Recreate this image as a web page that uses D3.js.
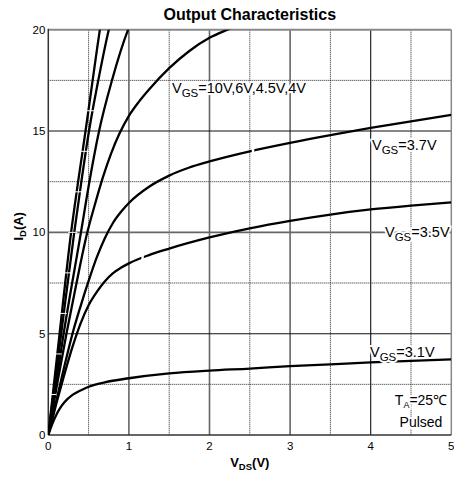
<!DOCTYPE html>
<html>
<head>
<meta charset="utf-8">
<script src="https://cdn.jsdelivr.net/npm/d3@7"></script>
<style>
  html, body { margin: 0; padding: 0; background: #fff; }
  svg { display: block; font-family: "Liberation Sans", Arial, sans-serif; }
</style>
</head>
<body>
<svg id="chart" width="454" height="480"></svg>
<script>
// Output characteristics: drain current I_D versus drain-source voltage V_DS
// for several gate-source voltages (T_A = 25 °C, pulsed).

const xTicks = [0, 1, 2, 3, 4, 5];
const yTicks = [0, 5, 10, 15, 20];
const xMinor = [0.5, 1.5, 2.5, 3.5, 4.5];
const yMinor = [2.5, 7.5, 12.5, 17.5];

// Each curve: [V_DS (V), I_D (A)]
const vgs10V  = [[0,0],[0.14,5],[0.283,10],[0.37,12.5],[0.462,15],[0.55,17.5],[0.64,20],[0.68,21]];
const vgs6V   = [[0,0],[0.16,5],[0.322,10],[0.41,12.5],[0.505,15],[0.62,17.5],[0.75,20],[0.81,21]];
const vgs4p5V = [[0,0],[0.19,5],[0.405,10],[0.51,12.5],[0.63,15],[0.79,17.5],[0.99,20],[1.1,21]];
const vgs4V   = [[0,0],[0.1,2.3],[0.225,5],[0.35,7.5],[0.484,10],[0.58,11.4],[0.68,12.75],[0.78,13.9],
                 [0.88,14.85],[1.0,15.75],[1.125,16.45],[1.25,17.05],[1.5,18.1],[1.75,18.95],
                 [2.0,19.6],[2.25,20.05],[2.5,20.5]];
const vgs3p7V = [[0,0],[0.1,1.7],[0.2,3.4],[0.3,5.0],[0.4,6.35],[0.5,7.6],[0.6,8.75],[0.7,9.7],[0.8,10.45],
                 [0.9,11.0],[1.0,11.45],[1.25,12.25],[1.5,12.8],[1.75,13.2],[2.0,13.5],[2.5,14.0],
                 [3.0,14.42],[3.5,14.8],[4.0,15.15],[4.5,15.48],[5.0,15.8]];
const vgs3p5V = [[0,0],[0.1,1.55],[0.2,3.0],[0.3,4.35],[0.4,5.5],[0.5,6.4],[0.6,7.05],[0.7,7.58],[0.8,7.98],
                 [0.9,8.25],[1.0,8.47],[1.25,8.88],[1.5,9.2],[2.0,9.75],[2.5,10.2],[3.0,10.57],[3.5,10.88],
                 [4.0,11.13],[4.5,11.32],[5.0,11.48]];
const vgs3p1V = [[0,0],[0.05,0.55],[0.1,1.0],[0.15,1.35],[0.2,1.62],[0.3,1.98],[0.4,2.2],[0.5,2.38],
                 [0.7,2.6],[1.0,2.8],[1.5,3.04],[2.0,3.18],[2.5,3.28],[3.0,3.4],[3.5,3.49],
                 [4.0,3.58],[4.5,3.66],[5.0,3.73]];

const curves = [vgs10V, vgs6V, vgs4p5V, vgs4V, vgs3p7V, vgs3p5V, vgs3p1V];

// Small breaks along curves: [curve index, V_DS]
const curveBreaks = [[4, 2.54], [5, 1.17]];
// Thin white marks crossing the two steepest traces, at these currents
const crossMarks = [2, 4, 6, 8, 10, 12, 14, 16];

const svg = d3.select("#chart");
const pL = 48.3, pR = 451.3, pT = 29.7, pB = 435;

const x = d3.scaleLinear().domain([0, 5]).range([pL, pR]);
const y = d3.scaleLinear().domain([0, 20]).range([pB, pT]);

svg.append("defs").append("clipPath").attr("id", "plotClip")
  .append("rect").attr("x", pL).attr("y", pT)
  .attr("width", pR - pL).attr("height", pB - pT);

// Dotted minor grid
const grid = svg.append("g");
grid.selectAll(".vminor").data(xMinor).join("line").attr("class", "vminor")
  .attr("x1", d => x(d)).attr("x2", d => x(d)).attr("y1", pT).attr("y2", pB)
  .attr("stroke", "#222").attr("stroke-width", 1).attr("stroke-dasharray", "1,1");
grid.selectAll(".hminor").data(yMinor).join("line").attr("class", "hminor")
  .attr("y1", d => y(d)).attr("y2", d => y(d)).attr("x1", pL).attr("x2", pR)
  .attr("stroke", "#222").attr("stroke-width", 1).attr("stroke-dasharray", "1,1");

// Solid major grid
const grayX = new Set([1, 2, 3]);
grid.selectAll(".vmajor").data(xTicks.filter(d => d > 0 && d < 5)).join("line").attr("class", "vmajor")
  .attr("x1", d => x(d)).attr("x2", d => x(d)).attr("y1", pT).attr("y2", pB)
  .attr("stroke", d => grayX.has(d) ? "#666" : "#111")
  .attr("stroke-width", d => grayX.has(d) ? 1.6 : 1.1);
grid.selectAll(".hmajor").data(yTicks.filter(d => d > 0 && d < 20)).join("line").attr("class", "hmajor")
  .attr("y1", d => y(d)).attr("y2", d => y(d)).attr("x1", pL).attr("x2", pR)
  .attr("stroke", d => d === 10 ? "#666" : "#111")
  .attr("stroke-width", d => d === 10 ? 1.6 : 1.1);

// Frame
svg.append("line").attr("x1", pL).attr("x2", pR).attr("y1", pT).attr("y2", pT)
  .attr("stroke", "#888").attr("stroke-width", 2);
svg.append("line").attr("x1", pR).attr("x2", pR).attr("y1", pT).attr("y2", pB)
  .attr("stroke", "#888").attr("stroke-width", 1.5);
svg.append("line").attr("x1", pL).attr("x2", pL).attr("y1", pT - 1).attr("y2", pB)
  .attr("stroke", "#333").attr("stroke-width", 1.5);
svg.append("line").attr("x1", pL).attr("x2", pR).attr("y1", pB).attr("y2", pB)
  .attr("stroke", "#333").attr("stroke-width", 1.5);

// Curves
const line = d3.line().x(d => x(d[0])).y(d => y(d[1])).curve(d3.curveMonotoneX);
const plot = svg.append("g").attr("clip-path", "url(#plotClip)");
plot.selectAll(".curve").data(curves).join("path").attr("class", "curve")
  .attr("d", line).attr("fill", "none").attr("stroke", "#000").attr("stroke-width", 2.3);

// Interpolate V_DS on a curve for a given I_D, and I_D for a given V_DS
function vAt(curve, id) {
  for (let i = 1; i < curve.length; i++) {
    const [v0, i0] = curve[i - 1], [v1, i1] = curve[i];
    if (id >= i0 && id <= i1) return v0 + (v1 - v0) * (id - i0) / (i1 - i0);
  }
  return curve[curve.length - 1][0];
}
function iAt(curve, v) {
  for (let i = 1; i < curve.length; i++) {
    const [v0, i0] = curve[i - 1], [v1, i1] = curve[i];
    if (v >= v0 && v <= v1) return i0 + (i1 - i0) * (v - v0) / (v1 - v0);
  }
  return curve[curve.length - 1][1];
}

plot.selectAll(".cross").data(crossMarks).join("line").attr("class", "cross")
  .attr("x1", d => x(vAt(vgs10V, d)) - 3).attr("x2", d => x(vAt(vgs6V, d)) + 3)
  .attr("y1", d => y(d)).attr("y2", d => y(d))
  .attr("stroke", "#fff").attr("stroke-width", 1);

plot.selectAll(".brk").data(curveBreaks).join("line").attr("class", "brk")
  .attr("x1", d => x(d[1])).attr("x2", d => x(d[1]))
  .attr("y1", d => y(iAt(curves[d[0]], d[1])) - 3)
  .attr("y2", d => y(iAt(curves[d[0]], d[1])) + 3)
  .attr("stroke", "#fff").attr("stroke-width", 2.5);

// Tick labels
svg.append("g").selectAll("text").data(yTicks).join("text")
  .attr("x", pL - 3).attr("y", d => y(d) + 4)
  .attr("text-anchor", "end").attr("font-size", 11.5).text(d => d);
svg.append("g").selectAll("text").data(xTicks).join("text")
  .attr("x", d => x(d)).attr("y", pB + 15)
  .attr("text-anchor", "middle").attr("font-size", 11.5).text(d => d);

// Title
svg.append("text").attr("x", (pL + pR) / 2).attr("y", 20)
  .attr("text-anchor", "middle").attr("font-size", 16).attr("font-weight", "bold")
  .text("Output Characteristics");

// Axis titles
const xt = svg.append("text").attr("x", (pL + pR) / 2).attr("y", 467)
  .attr("text-anchor", "middle").attr("font-size", 13).attr("font-weight", "bold");
xt.append("tspan").text("V");
xt.append("tspan").attr("font-size", 9.5).attr("dy", 3).text("DS");
xt.append("tspan").attr("dy", -3).text("(V)");

const yt = svg.append("text").attr("transform", `translate(23, ${(pT + pB) / 2 - 6}) rotate(-90)`)
  .attr("text-anchor", "middle").attr("font-size", 13).attr("font-weight", "bold");
yt.append("tspan").text("I");
yt.append("tspan").attr("font-size", 9.5).attr("dy", 3).text("D");
yt.append("tspan").attr("dy", -3).text("(A)");

// Curve annotations
function vgsLabel(px, py, value) {
  const t = svg.append("text").attr("x", px).attr("y", py).attr("font-size", 14.5)
    .attr("stroke", "#fff").attr("stroke-width", 4).attr("stroke-linejoin", "round")
    .attr("paint-order", "stroke");
  t.append("tspan").text("V");
  t.append("tspan").attr("font-size", 11.5).attr("dy", 3.5).text("GS");
  t.append("tspan").attr("dy", -3.5).text("=" + value);
  return t;
}
vgsLabel(172, 93, "10V,6V,4.5V,4V");
vgsLabel(372, 150, "3.7V");
vgsLabel(385, 237, "3.5V");
vgsLabel(370, 357, "3.1V");

const ta = svg.append("text").attr("x", 421).attr("y", 405).attr("text-anchor", "middle")
  .attr("font-size", 14).attr("stroke", "#fff").attr("stroke-width", 4)
  .attr("stroke-linejoin", "round").attr("paint-order", "stroke");
ta.append("tspan").text("T");
ta.append("tspan").attr("font-size", 9).attr("dy", 3).text("A");
ta.append("tspan").attr("dy", -3).text("=25℃");
svg.append("text").attr("x", 421).attr("y", 427).attr("text-anchor", "middle")
  .attr("font-size", 14).attr("stroke", "#fff").attr("stroke-width", 4)
  .attr("stroke-linejoin", "round").attr("paint-order", "stroke").text("Pulsed");
</script>
</body>
</html>
